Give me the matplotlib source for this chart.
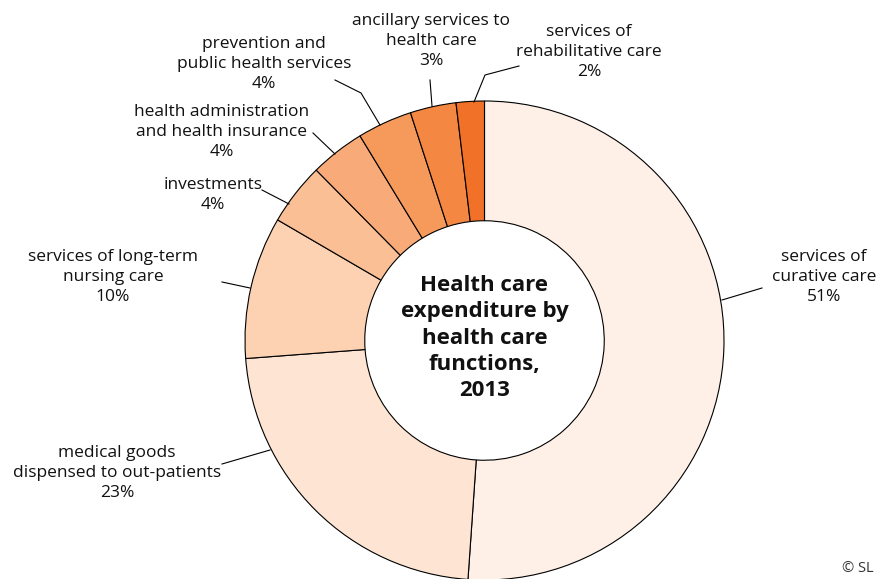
import matplotlib
matplotlib.use("Agg")
import matplotlib.pyplot as plt

# shares of health care expenditure, 2013 (percent)
functions = [
    "services of\ncurative care",
    "medical goods\ndispensed to out-patients",
    "services of long-term\nnursing care",
    "investments",
    "health administration\nand health insurance",
    "prevention and\npublic health services",
    "ancillary services to\nhealth care",
    "services of\nrehabilitative care",
]
shares = [51.1, 22.7, 9.6, 4.2, 3.7, 3.7, 3.1, 1.9]
colors = ["#FEF0E6", "#FDE4D3", "#FCD2B3", "#FABF95",
          "#F8AB78", "#F69A5C", "#F48741", "#F07127"]

W, H = 878, 579
CX, CY, R = 484.5, 340.5, 239.5


def px(x, y):
    # pixel position -> data coords (pie radius = 1)
    return (x - CX) / R, (CY - y) / R


plt.rcParams['font.family'] = ['Open Sans', 'DejaVu Sans']

fig = plt.figure(figsize=(W / 100, H / 100), dpi=100)
ax = fig.add_axes([0, 0, 1, 1])

ax.pie(shares, colors=colors, startangle=90, counterclock=False, radius=1,
       wedgeprops=dict(width=0.5, edgecolor="black", linewidth=0.8))
ax.set_aspect("auto")
ax.set_xlim(px(0, 0)[0], px(W, 0)[0])
ax.set_ylim(px(0, H)[1], px(0, 0)[1])
ax.axis("off")

# label text centre (pixels) and leader line points (pixels)
label_pos = [(824, 277), (117, 473), (113, 277), (213, 195),
             (222, 132), (264, 64), (431, 41), (589, 52)]
leaders = [
    [(762, 288), (722, 300)],
    [(222, 464), (270, 450)],
    [(222, 282), (250, 288)],
    [(262, 190), (289, 204)],
    [(313, 133), (335, 154)],
    [(335, 80), (361, 93), (380, 125)],
    [(430, 80), (432, 106)],
    [(519, 66), (485, 75), (474, 102)],
]

for name, val, (lx, ly), pts in zip(functions, shares, label_pos, leaders):
    tx, ty = px(lx, ly)
    ax.text(tx, ty, f"{name}\n{round(val)}%", ha="center", va="center",
            fontsize=12.5, linespacing=1.31, color="#111111")
    xs = [px(*p)[0] for p in pts]
    ys = [px(*p)[1] for p in pts]
    ax.plot(xs, ys, color="black", lw=0.8)

tx, ty = px(CX, 338)
ax.text(tx, ty, "Health care\nexpenditure by\nhealth care\nfunctions,\n2013",
        ha="center", va="center", fontsize=16.0, fontweight="bold",
        linespacing=1.33, color="#111111")

ax.text(*px(874, 569), "© SL", ha="right", va="center", fontsize=10.5, color="#333333")

fig.savefig("out.png", dpi=100)
